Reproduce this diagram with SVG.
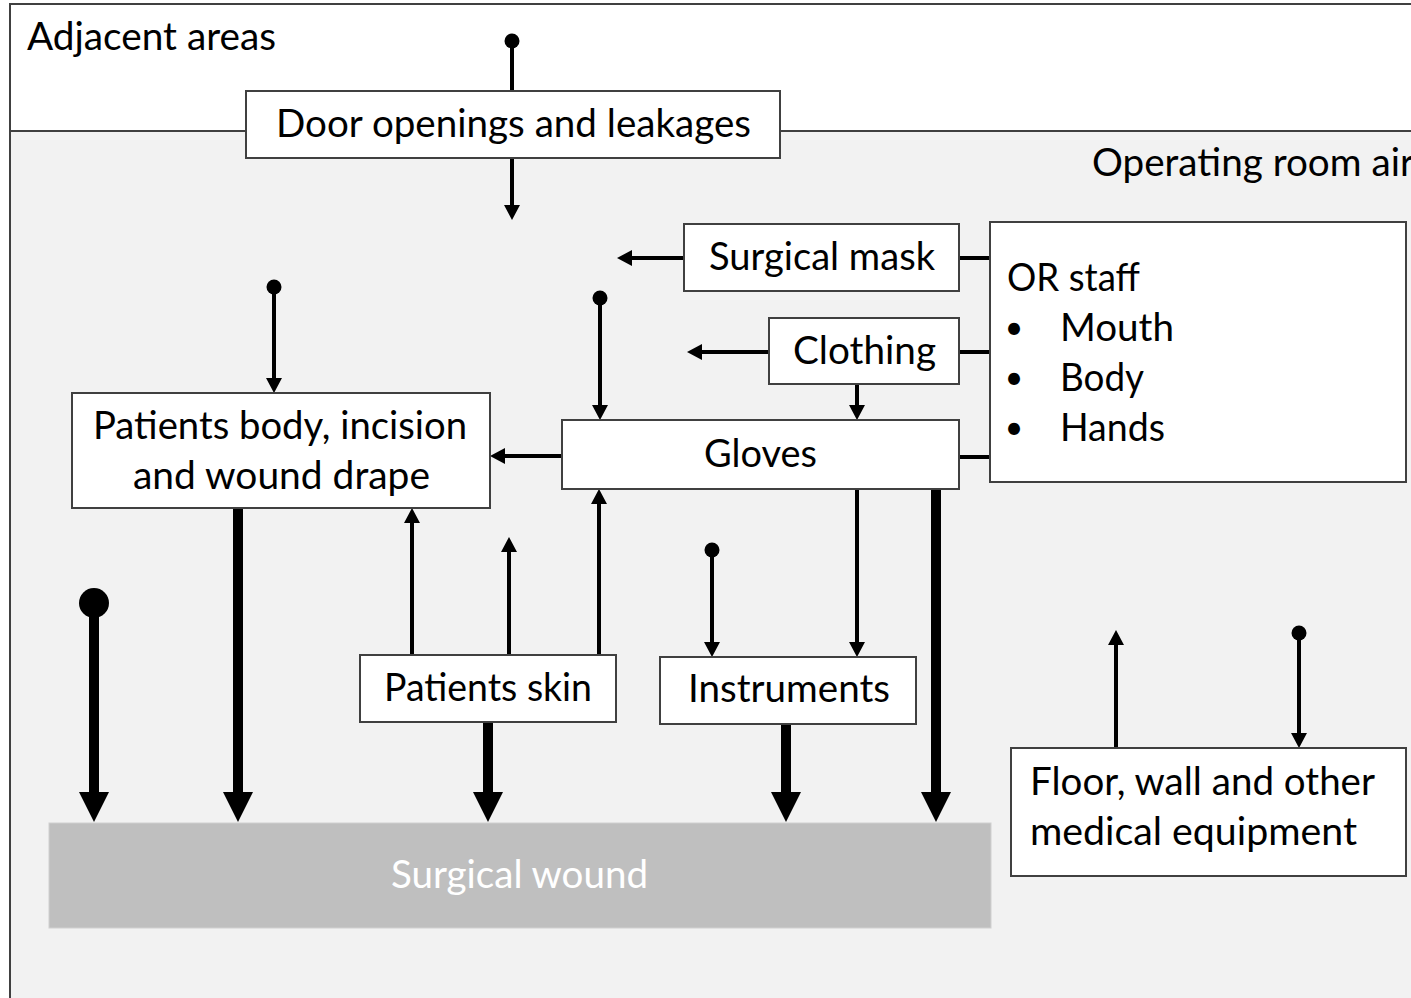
<svg xmlns="http://www.w3.org/2000/svg" width="1411" height="998" viewBox="0 0 1411 998">
<style>
text{font-family:Lato,"Open Sans","Liberation Sans",sans-serif;font-size:38px;fill:#000}
.bul{font-size:32px}
.box{fill:#fff;stroke:#404040;stroke-width:2}
.thin{stroke:#000;stroke-width:4;fill:none}
.thick{stroke:#000;stroke-width:10;fill:none}
.ta{marker-end:url(#ah)}
.tk{marker-end:url(#ahk)}
.sd{marker-start:url(#dot)}
.bd{marker-start:url(#bdot)}
</style>
<defs>
<marker id="ah" markerUnits="userSpaceOnUse" viewBox="0 0 15 16" refX="0" refY="8" markerWidth="15" markerHeight="16" orient="auto"><path d="M0,0 L15,8 L0,16 z" fill="#000"/></marker>
<marker id="ahk" markerUnits="userSpaceOnUse" viewBox="0 0 30 30" refX="0" refY="15" markerWidth="30" markerHeight="30" orient="auto"><path d="M0,0 L30,15 L0,30 z" fill="#000"/></marker>
<marker id="dot" markerUnits="userSpaceOnUse" viewBox="0 0 16 16" refX="8" refY="8" markerWidth="16" markerHeight="16"><circle cx="8" cy="8" r="7.5" fill="#000"/></marker>
<marker id="bdot" markerUnits="userSpaceOnUse" viewBox="0 0 32 32" refX="16" refY="16" markerWidth="32" markerHeight="32"><circle cx="16" cy="16" r="15" fill="#000"/></marker>
</defs>
<g id="background">
<rect x="0" y="0" width="1411" height="998" fill="#fff"/>
<rect x="10" y="131" width="1405" height="870" fill="#f2f2f2"/>
<path d="M10,1000 V4 H1415" fill="none" stroke="#404040" stroke-width="2"/>
<path d="M10,131 H246 M780,131 H1415" fill="none" stroke="#404040" stroke-width="2"/>
<text x="27" y="50" textLength="249" lengthAdjust="spacingAndGlyphs">Adjacent areas</text>
<text x="1092" y="176" textLength="322" lengthAdjust="spacingAndGlyphs">Operating room air</text>
</g>
<g id="connectors">
<line class="thin sd" x1="512" y1="41" x2="512" y2="91"/>
<line class="thin ta" x1="512" y1="158" x2="512" y2="205"/>
<line class="thin ta" x1="684" y1="258" x2="632" y2="258"/>
<line class="thin ta" x1="769" y1="352" x2="702" y2="352"/>
<line class="thin ta" x1="857" y1="384" x2="857" y2="405"/>
<line class="thin sd ta" x1="600" y1="298" x2="600" y2="405"/>
<line class="thin ta" x1="562" y1="456" x2="505" y2="456"/>
<line class="thin sd ta" x1="274" y1="287" x2="274" y2="378"/>
<line class="thin" x1="959" y1="258" x2="990" y2="258"/>
<line class="thin" x1="959" y1="352" x2="990" y2="352"/>
<line class="thin" x1="959" y1="457" x2="990" y2="457"/>
<line class="thick tk" x1="238" y1="508" x2="238" y2="792"/>
<line class="thick bd tk" x1="94" y1="603" x2="94" y2="792"/>
<line class="thin ta" x1="412" y1="655" x2="412" y2="523"/>
<line class="thin ta" x1="509" y1="655" x2="509" y2="552"/>
<line class="thin ta" x1="599" y1="655" x2="599" y2="504"/>
<line class="thick tk" x1="488" y1="722" x2="488" y2="792"/>
<line class="thin sd ta" x1="712" y1="550" x2="712" y2="642"/>
<line class="thin ta" x1="857" y1="489" x2="857" y2="642"/>
<line class="thick tk" x1="786" y1="724" x2="786" y2="792"/>
<line class="thick tk" x1="936" y1="489" x2="936" y2="792"/>
<line class="thin ta" x1="1116" y1="748" x2="1116" y2="645"/>
<line class="thin sd ta" x1="1299" y1="633" x2="1299" y2="733"/>
</g>
<g id="door">
<rect class="box" x="246" y="91" width="534" height="67"/>
<text x="276" y="137" textLength="475" lengthAdjust="spacingAndGlyphs">Door openings and leakages</text>
</g>
<g id="mask">
<rect class="box" x="684" y="224" width="275" height="67"/>
<text x="709" y="270" textLength="226" lengthAdjust="spacingAndGlyphs">Surgical mask</text>
</g>
<g id="clothing">
<rect class="box" x="769" y="318" width="190" height="66"/>
<text x="793" y="364" textLength="143" lengthAdjust="spacingAndGlyphs">Clothing</text>
</g>
<g id="gloves">
<rect class="box" x="562" y="420" width="397" height="69"/>
<text x="704" y="467" textLength="113" lengthAdjust="spacingAndGlyphs">Gloves</text>
</g>
<g id="orstaff">
<rect class="box" x="990" y="222" width="416" height="260"/>
<text x="1007" y="291" textLength="133" lengthAdjust="spacingAndGlyphs">OR staff</text>
<text class="bul" x="1014" y="339" text-anchor="middle">•</text>
<text x="1060" y="341" textLength="114" lengthAdjust="spacingAndGlyphs">Mouth</text>
<text class="bul" x="1014" y="389" text-anchor="middle">•</text>
<text x="1060" y="391" textLength="84" lengthAdjust="spacingAndGlyphs">Body</text>
<text class="bul" x="1014" y="439" text-anchor="middle">•</text>
<text x="1060" y="441" textLength="105" lengthAdjust="spacingAndGlyphs">Hands</text>
</g>
<g id="patientbody">
<rect class="box" x="72" y="393" width="418" height="115"/>
<text x="93" y="439" textLength="374" lengthAdjust="spacingAndGlyphs">Patients body, incision</text>
<text x="133" y="489" textLength="297" lengthAdjust="spacingAndGlyphs">and wound drape</text>
</g>
<g id="patientskin">
<rect class="box" x="360" y="655" width="256" height="67"/>
<text x="384" y="701" textLength="208" lengthAdjust="spacingAndGlyphs">Patients skin</text>
</g>
<g id="instruments">
<rect class="box" x="660" y="657" width="256" height="67"/>
<text x="688" y="702" textLength="202" lengthAdjust="spacingAndGlyphs">Instruments</text>
</g>
<g id="floor">
<rect class="box" x="1011" y="748" width="395" height="128"/>
<text x="1030" y="795" textLength="345" lengthAdjust="spacingAndGlyphs">Floor, wall and other</text>
<text x="1030" y="845" textLength="327" lengthAdjust="spacingAndGlyphs">medical equipment</text>
</g>
<g id="wound">
<rect x="49" y="823" width="942" height="105" fill="#bfbfbf" stroke="#d0d0d0" stroke-width="1"/>
<text x="391" y="888" textLength="257" lengthAdjust="spacingAndGlyphs" style="fill:#fff">Surgical wound</text>
</g>
</svg>
